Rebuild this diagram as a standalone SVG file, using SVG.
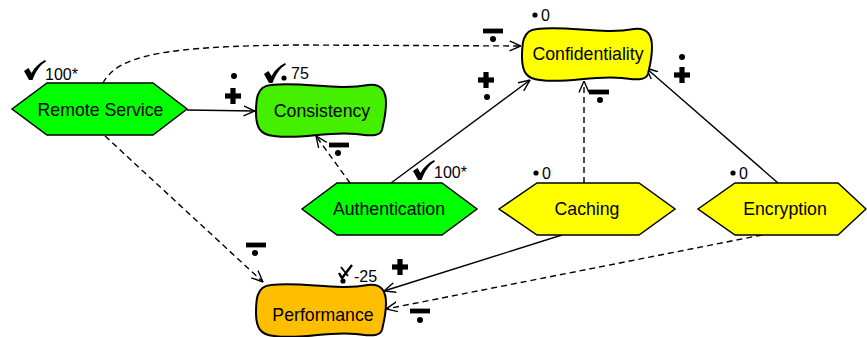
<svg xmlns="http://www.w3.org/2000/svg" width="867" height="337" viewBox="0 0 867 337">
<style>
.lbl{font-family:"Liberation Sans",Arial,sans-serif;font-size:17.7px;fill:#000;text-anchor:middle}
.sm{font-family:"Liberation Sans",Arial,sans-serif;font-size:16px;fill:#000}
.shape{stroke:#000;stroke-width:1.5}
.soft{stroke:#000;stroke-width:2}
.ln{fill:none;stroke:#000;stroke-width:1.4;marker-end:url(#arr)}
.dash{stroke-dasharray:6,4}
.ico{fill:#000}
</style>
<defs>
<marker id="arr" viewBox="0 0 12 12" refX="11.5" refY="6" markerWidth="12" markerHeight="12" markerUnits="userSpaceOnUse" orient="auto">
<path d="M0,1 L11.5,6 L0,11" fill="none" stroke="#000" stroke-width="1.4"/>
</marker>
<path id="softbox" d="M15,2 C45,-2 80,8 112,2 C126,0 130,9 130,20 C130,32 127,42 126,47 C123,55 110,52 100,51 C70,48 45,57 18,53 C4,52 0,44 0,30 C0,18 0,3 15,2 Z"/>
<path id="check" d="M0,11 L4.5,8 L7.5,13 C11,7 15,3 21,0 L22,1.5 C16,5 12,11 8.5,20 L5,20 Z"/>
<g id="plus"><rect x="-8" y="-2.6" width="16" height="5.2"/><rect x="-2.6" y="-8" width="5.2" height="16"/></g>
<rect id="minus" x="-10" y="-2.4" width="20" height="4.8"/>
</defs>

<g id="connectors">
<path class="ln" d="M187,110 L255,111"/>
<path class="ln dash" d="M103,83 C118,55 165,46 300,45 L521,46"/>
<path class="ln dash" d="M105,136 L263,282"/>
<path class="ln dash" d="M350,183 L316,136"/>
<path class="ln" d="M391,183 L530,80"/>
<path class="ln dash" d="M584,183 L584,81"/>
<path class="ln" d="M778,183 L646,68"/>
<path class="ln" d="M562,235 L384,291"/>
<path class="ln dash" d="M762,235 L386,309"/>
<g class="ico">
<use href="#plus" x="233" y="96"/><circle cx="234" cy="76" r="3"/>
<use href="#minus" x="493" y="31"/><circle cx="493" cy="39" r="3"/>
<use href="#plus" x="486" y="80"/><circle cx="487" cy="97" r="3"/>
<use href="#minus" x="339" y="145"/><circle cx="338" cy="153" r="3"/>
<use href="#minus" x="599" y="92"/><circle cx="600" cy="100" r="3"/>
<use href="#plus" x="682" y="75"/><circle cx="682" cy="57" r="3"/>
<use href="#minus" x="256" y="245"/><circle cx="255" cy="253" r="3"/>
<use href="#plus" x="400" y="267"/>
<use href="#minus" x="420" y="311"/><circle cx="420" cy="320" r="3"/>
</g>
</g>

<g id="remote-service">
<polygon class="shape" fill="#00ff00" points="12,109 47,83 153,83 187,109 153,135 47,135"/>
<text class="lbl" x="100.5" y="116">Remote Service</text>
<use href="#check" x="24" y="60" class="ico"/>
<text class="sm" x="45" y="80">100*</text>
</g>

<g id="consistency">
<use href="#softbox" x="256" y="83" fill="#44f000" class="soft"/>
<text class="lbl" x="322" y="117">Consistency</text>
<use href="#check" x="264" y="63" class="ico"/>
<circle cx="284" cy="78" r="2.6" class="ico"/>
<text class="sm" x="291" y="79">75</text>
</g>

<g id="confidentiality">
<use href="#softbox" x="522" y="27" fill="#ffff00" class="soft"/>
<text class="lbl" x="588" y="60">Confidentiality</text>
<circle cx="535" cy="15" r="2.6" class="ico"/>
<text class="sm" x="541" y="21">0</text>
</g>

<g id="authentication">
<polygon class="shape" fill="#00ff00" points="302,209 337,183 442,183 477,209 442,235 337,235"/>
<text class="lbl" x="389" y="215">Authentication</text>
<use href="#check" x="413" y="160" class="ico"/>
<text class="sm" x="434" y="178">100*</text>
</g>

<g id="caching">
<polygon class="shape" fill="#ffff00" points="499,209 537,183 639,183 675,209 639,235 537,235"/>
<text class="lbl" x="587" y="215">Caching</text>
<circle cx="536" cy="173" r="2.6" class="ico"/>
<text class="sm" x="542" y="179">0</text>
</g>

<g id="encryption">
<polygon class="shape" fill="#ffff00" points="698,209 735,183 838,183 866,209 838,235 735,235"/>
<text class="lbl" x="785" y="215">Encryption</text>
<circle cx="733" cy="173" r="2.6" class="ico"/>
<text class="sm" x="739" y="179">0</text>
</g>

<g id="performance">
<use href="#softbox" x="256" y="283" fill="#ffbf00" class="soft"/>
<text class="lbl" x="323" y="321">Performance</text>
<path d="M339,273 L342,278 L352,265" fill="none" stroke="#000" stroke-width="2.4"/>
<path d="M341,267 L348,276" fill="none" stroke="#000" stroke-width="1.8"/>
<circle cx="343" cy="281" r="2.6" class="ico"/>
<text class="sm" x="354" y="282">-25</text>
</g>
</svg>
